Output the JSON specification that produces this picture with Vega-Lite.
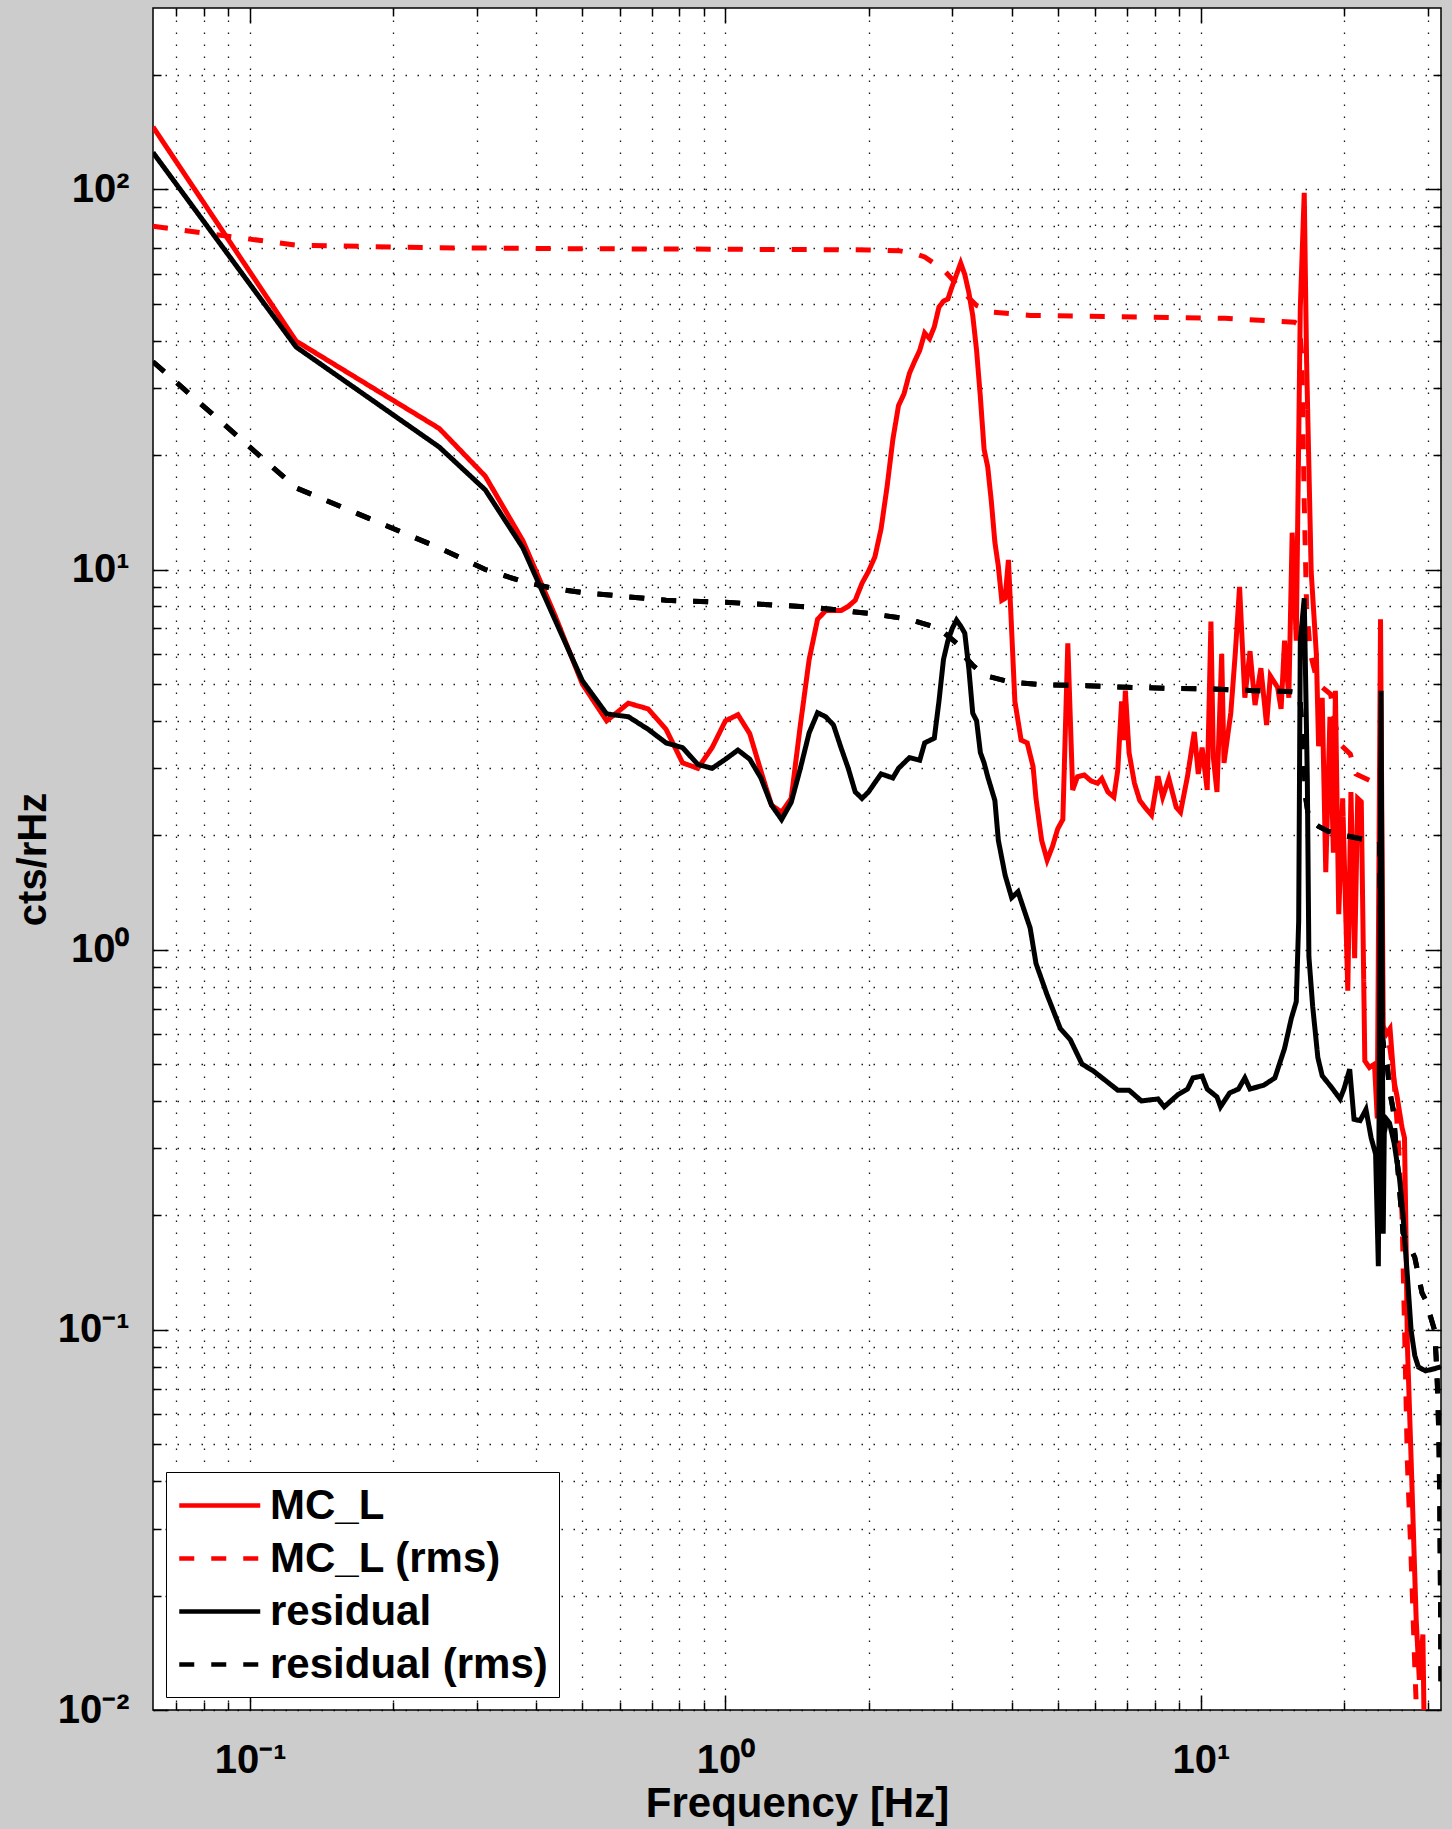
{
"$schema": "https://vega.github.io/schema/vega-lite/v6.json",
"width": 1288, "height": 1702,
"autosize": {"type": "none"},
"padding": {"left": 153, "top": 8, "right": 11, "bottom": 119},
"background": "#cccccc",
"config": {"view": {"fill": "#ffffff", "stroke": "#000000", "strokeWidth": 1.5}, "font": "Liberation Sans"},
"data": {"values": [
{"s":"MC_L","f":0.0625,"v":146},{"s":"MC_L","f":0.125,"v":39.9},{"s":"MC_L","f":0.25,"v":23.5},{"s":"MC_L","f":0.3125,"v":17.6},{"s":"MC_L","f":0.375,"v":11.9},{"s":"MC_L","f":0.4375,"v":7.6},{"s":"MC_L","f":0.5,"v":5.0},{"s":"MC_L","f":0.5625,"v":4.0},{"s":"MC_L","f":0.625,"v":4.45},{"s":"MC_L","f":0.6875,"v":4.3},{"s":"MC_L","f":0.75,"v":3.8},{"s":"MC_L","f":0.8125,"v":3.1},{"s":"MC_L","f":0.875,"v":3.0},{"s":"MC_L","f":0.9375,"v":3.4},{"s":"MC_L","f":1.0,"v":4.0},{"s":"MC_L","f":1.0625,"v":4.15},{"s":"MC_L","f":1.125,"v":3.7},{"s":"MC_L","f":1.1875,"v":2.95},{"s":"MC_L","f":1.25,"v":2.4},{"s":"MC_L","f":1.3125,"v":2.3},{"s":"MC_L","f":1.375,"v":2.5},{"s":"MC_L","f":1.4375,"v":3.9},{"s":"MC_L","f":1.5,"v":5.8},{"s":"MC_L","f":1.5625,"v":7.4},{"s":"MC_L","f":1.625,"v":7.8},{"s":"MC_L","f":1.6875,"v":7.8},{"s":"MC_L","f":1.75,"v":7.8},{"s":"MC_L","f":1.8125,"v":8.0},{"s":"MC_L","f":1.875,"v":8.3},{"s":"MC_L","f":1.9375,"v":9.2},{"s":"MC_L","f":2.0,"v":9.9},{"s":"MC_L","f":2.0625,"v":10.8},{"s":"MC_L","f":2.125,"v":12.8},{"s":"MC_L","f":2.1875,"v":16.5},{"s":"MC_L","f":2.25,"v":22},{"s":"MC_L","f":2.3125,"v":27},{"s":"MC_L","f":2.375,"v":29},{"s":"MC_L","f":2.4375,"v":32.8},{"s":"MC_L","f":2.5,"v":35.3},{"s":"MC_L","f":2.5625,"v":37.7},{"s":"MC_L","f":2.625,"v":41.9},{"s":"MC_L","f":2.6875,"v":40.5},{"s":"MC_L","f":2.75,"v":43.5},{"s":"MC_L","f":2.8125,"v":49},{"s":"MC_L","f":2.875,"v":50.8},{"s":"MC_L","f":2.9375,"v":51.5},{"s":"MC_L","f":3.0,"v":55.7},{"s":"MC_L","f":3.0625,"v":59.7},{"s":"MC_L","f":3.125,"v":64},{"s":"MC_L","f":3.1875,"v":59.7},{"s":"MC_L","f":3.25,"v":53.6},{"s":"MC_L","f":3.3125,"v":46.6},{"s":"MC_L","f":3.375,"v":37.7},{"s":"MC_L","f":3.4375,"v":28.4},{"s":"MC_L","f":3.5,"v":20.7},{"s":"MC_L","f":3.5625,"v":18.6},{"s":"MC_L","f":3.625,"v":15.1},{"s":"MC_L","f":3.6875,"v":11.8},{"s":"MC_L","f":3.75,"v":10.2},{"s":"MC_L","f":3.8125,"v":8.3},{"s":"MC_L","f":3.875,"v":8.4},{"s":"MC_L","f":3.9375,"v":10.6},{"s":"MC_L","f":4.0,"v":6.9},{"s":"MC_L","f":4.0625,"v":4.5},{"s":"MC_L","f":4.1875,"v":3.56},{"s":"MC_L","f":4.3125,"v":3.5},{"s":"MC_L","f":4.4375,"v":3.03},{"s":"MC_L","f":4.5,"v":2.5},{"s":"MC_L","f":4.625,"v":1.94},{"s":"MC_L","f":4.75,"v":1.72},{"s":"MC_L","f":4.875,"v":1.87},{"s":"MC_L","f":5.0,"v":2.08},{"s":"MC_L","f":5.125,"v":2.2},{"s":"MC_L","f":5.25,"v":6.4},{"s":"MC_L","f":5.375,"v":2.63},{"s":"MC_L","f":5.5,"v":2.85},{"s":"MC_L","f":5.6875,"v":2.88},{"s":"MC_L","f":5.875,"v":2.78},{"s":"MC_L","f":6.0625,"v":2.74},{"s":"MC_L","f":6.1875,"v":2.82},{"s":"MC_L","f":6.375,"v":2.6},{"s":"MC_L","f":6.5625,"v":2.52},{"s":"MC_L","f":6.6875,"v":2.97},{"s":"MC_L","f":6.8125,"v":4.5},{"s":"MC_L","f":6.875,"v":3.56},{"s":"MC_L","f":6.9375,"v":4.8},{"s":"MC_L","f":7.0625,"v":3.3},{"s":"MC_L","f":7.25,"v":2.74},{"s":"MC_L","f":7.4375,"v":2.47},{"s":"MC_L","f":7.625,"v":2.37},{"s":"MC_L","f":7.875,"v":2.26},{"s":"MC_L","f":8.125,"v":2.86},{"s":"MC_L","f":8.3125,"v":2.52},{"s":"MC_L","f":8.5625,"v":2.82},{"s":"MC_L","f":8.875,"v":2.37},{"s":"MC_L","f":9.0625,"v":2.3},{"s":"MC_L","f":9.375,"v":2.86},{"s":"MC_L","f":9.6875,"v":3.74},{"s":"MC_L","f":9.875,"v":2.9},{"s":"MC_L","f":10.0625,"v":3.4},{"s":"MC_L","f":10.3125,"v":2.63},{"s":"MC_L","f":10.5,"v":7.3},{"s":"MC_L","f":10.625,"v":3.2},{"s":"MC_L","f":10.8125,"v":2.6},{"s":"MC_L","f":11.0625,"v":6.0},{"s":"MC_L","f":11.1875,"v":3.1},{"s":"MC_L","f":11.5625,"v":4.2},{"s":"MC_L","f":11.8125,"v":6.0},{"s":"MC_L","f":12.0625,"v":9.0},{"s":"MC_L","f":12.375,"v":4.6},{"s":"MC_L","f":12.6875,"v":6.1},{"s":"MC_L","f":13.0,"v":4.4},{"s":"MC_L","f":13.375,"v":5.5},{"s":"MC_L","f":13.75,"v":3.9},{"s":"MC_L","f":14.0,"v":5.25},{"s":"MC_L","f":14.5,"v":4.9},{"s":"MC_L","f":14.75,"v":4.3},{"s":"MC_L","f":15.0,"v":6.5},{"s":"MC_L","f":15.3125,"v":4.6},{"s":"MC_L","f":15.5625,"v":12.5},{"s":"MC_L","f":15.875,"v":6.5},{"s":"MC_L","f":16.1875,"v":48.7},{"s":"MC_L","f":16.5,"v":98},{"s":"MC_L","f":16.6875,"v":35.5},{"s":"MC_L","f":17.0625,"v":9.9},{"s":"MC_L","f":17.5,"v":5.96},{"s":"MC_L","f":17.6875,"v":3.43},{"s":"MC_L","f":18.0,"v":4.6},{"s":"MC_L","f":18.3125,"v":1.6},{"s":"MC_L","f":18.6875,"v":4.1},{"s":"MC_L","f":19.0,"v":1.8},{"s":"MC_L","f":19.1875,"v":4.8},{"s":"MC_L","f":19.5,"v":1.24},{"s":"MC_L","f":19.875,"v":2.5},{"s":"MC_L","f":20.375,"v":0.78},{"s":"MC_L","f":20.6875,"v":2.6},{"s":"MC_L","f":21.0625,"v":0.95},{"s":"MC_L","f":21.375,"v":2.5},{"s":"MC_L","f":21.75,"v":2.45},{"s":"MC_L","f":22.125,"v":0.51},{"s":"MC_L","f":22.625,"v":0.49},{"s":"MC_L","f":23.1875,"v":0.5},{"s":"MC_L","f":23.5,"v":0.36},{"s":"MC_L","f":23.875,"v":7.4},{"s":"MC_L","f":24.1875,"v":0.63},{"s":"MC_L","f":24.5625,"v":0.6},{"s":"MC_L","f":25.0,"v":0.62},{"s":"MC_L","f":25.5,"v":0.45},{"s":"MC_L","f":25.875,"v":0.41},{"s":"MC_L","f":26.5,"v":0.34},{"s":"MC_L","f":26.8125,"v":0.32},{"s":"MC_L","f":27.0,"v":0.183},{"s":"MC_L","f":27.1875,"v":0.092},{"s":"MC_L","f":27.6875,"v":0.0457},{"s":"MC_L","f":28.375,"v":0.0173},{"s":"MC_L","f":28.8125,"v":0.012},{"s":"MC_L","f":29.3125,"v":0.0158},{"s":"MC_L","f":29.625,"v":0.006},
{"s":"MC_L (rms)","f":0.0625,"v":80},{"s":"MC_L (rms)","f":0.125,"v":71.3},{"s":"MC_L (rms)","f":0.25,"v":70.2},{"s":"MC_L (rms)","f":0.5,"v":69.8},{"s":"MC_L (rms)","f":1.0,"v":69.6},{"s":"MC_L (rms)","f":2.0,"v":69.3},{"s":"MC_L (rms)","f":2.3125,"v":69},{"s":"MC_L (rms)","f":2.5,"v":67.8},{"s":"MC_L (rms)","f":2.625,"v":66.4},{"s":"MC_L (rms)","f":2.875,"v":61.5},{"s":"MC_L (rms)","f":3.0,"v":58},{"s":"MC_L (rms)","f":3.125,"v":54.5},{"s":"MC_L (rms)","f":3.25,"v":51.9},{"s":"MC_L (rms)","f":3.375,"v":49.5},{"s":"MC_L (rms)","f":3.625,"v":47.6},{"s":"MC_L (rms)","f":4.375,"v":46.6},{"s":"MC_L (rms)","f":6.375,"v":46.3},{"s":"MC_L (rms)","f":11.25,"v":45.8},{"s":"MC_L (rms)","f":15.75,"v":44.7},{"s":"MC_L (rms)","f":16.125,"v":44},{"s":"MC_L (rms)","f":16.3125,"v":36},{"s":"MC_L (rms)","f":16.5,"v":15},{"s":"MC_L (rms)","f":16.6875,"v":8},{"s":"MC_L (rms)","f":17.0,"v":6.0},{"s":"MC_L (rms)","f":17.5,"v":5.2},{"s":"MC_L (rms)","f":18.0,"v":4.9},{"s":"MC_L (rms)","f":18.75,"v":4.7},{"s":"MC_L (rms)","f":19.1875,"v":3.9},{"s":"MC_L (rms)","f":19.625,"v":3.47},{"s":"MC_L (rms)","f":20.625,"v":3.27},{"s":"MC_L (rms)","f":21.1875,"v":2.9},{"s":"MC_L (rms)","f":23.625,"v":2.72},{"s":"MC_L (rms)","f":23.875,"v":2.7},{"s":"MC_L (rms)","f":24.0625,"v":0.64},{"s":"MC_L (rms)","f":25.0,"v":0.55},{"s":"MC_L (rms)","f":25.5,"v":0.45},{"s":"MC_L (rms)","f":26.0,"v":0.32},{"s":"MC_L (rms)","f":26.5,"v":0.2},{"s":"MC_L (rms)","f":26.875,"v":0.09},{"s":"MC_L (rms)","f":27.1875,"v":0.045},{"s":"MC_L (rms)","f":27.6875,"v":0.025},{"s":"MC_L (rms)","f":28.1875,"v":0.013},{"s":"MC_L (rms)","f":28.5,"v":0.009},
{"s":"residual","f":0.0625,"v":125},{"s":"residual","f":0.125,"v":38.5},{"s":"residual","f":0.25,"v":21},{"s":"residual","f":0.3125,"v":16.2},{"s":"residual","f":0.375,"v":11.4},{"s":"residual","f":0.4375,"v":7.4},{"s":"residual","f":0.5,"v":5.1},{"s":"residual","f":0.5625,"v":4.17},{"s":"residual","f":0.625,"v":4.1},{"s":"residual","f":0.6875,"v":3.8},{"s":"residual","f":0.75,"v":3.5},{"s":"residual","f":0.8125,"v":3.4},{"s":"residual","f":0.875,"v":3.07},{"s":"residual","f":0.9375,"v":3.0},{"s":"residual","f":1.0,"v":3.17},{"s":"residual","f":1.0625,"v":3.35},{"s":"residual","f":1.125,"v":3.17},{"s":"residual","f":1.1875,"v":2.83},{"s":"residual","f":1.25,"v":2.4},{"s":"residual","f":1.3125,"v":2.2},{"s":"residual","f":1.375,"v":2.44},{"s":"residual","f":1.4375,"v":3.0},{"s":"residual","f":1.5,"v":3.72},{"s":"residual","f":1.5625,"v":4.2},{"s":"residual","f":1.625,"v":4.1},{"s":"residual","f":1.6875,"v":3.9},{"s":"residual","f":1.75,"v":3.4},{"s":"residual","f":1.8125,"v":3.0},{"s":"residual","f":1.875,"v":2.6},{"s":"residual","f":1.9375,"v":2.5},{"s":"residual","f":2.0,"v":2.6},{"s":"residual","f":2.0625,"v":2.75},{"s":"residual","f":2.125,"v":2.9},{"s":"residual","f":2.25,"v":2.83},{"s":"residual","f":2.3125,"v":3.0},{"s":"residual","f":2.4375,"v":3.2},{"s":"residual","f":2.5625,"v":3.15},{"s":"residual","f":2.625,"v":3.5},{"s":"residual","f":2.75,"v":3.6},{"s":"residual","f":2.8125,"v":4.5},{"s":"residual","f":2.875,"v":5.8},{"s":"residual","f":2.9375,"v":6.5},{"s":"residual","f":3.0,"v":7.0},{"s":"residual","f":3.0625,"v":7.36},{"s":"residual","f":3.125,"v":7.1},{"s":"residual","f":3.1875,"v":6.8},{"s":"residual","f":3.25,"v":5.5},{"s":"residual","f":3.3125,"v":4.19},{"s":"residual","f":3.375,"v":4.0},{"s":"residual","f":3.4375,"v":3.3},{"s":"residual","f":3.5,"v":3.1},{"s":"residual","f":3.5625,"v":2.85},{"s":"residual","f":3.6875,"v":2.47},{"s":"residual","f":3.75,"v":1.94},{"s":"residual","f":3.875,"v":1.57},{"s":"residual","f":4.0,"v":1.37},{"s":"residual","f":4.125,"v":1.42},{"s":"residual","f":4.25,"v":1.27},{"s":"residual","f":4.375,"v":1.14},{"s":"residual","f":4.5,"v":0.92},{"s":"residual","f":4.75,"v":0.76},{"s":"residual","f":4.875,"v":0.7},{"s":"residual","f":5.0625,"v":0.62},{"s":"residual","f":5.3125,"v":0.58},{"s":"residual","f":5.625,"v":0.5},{"s":"residual","f":5.9375,"v":0.48},{"s":"residual","f":6.6875,"v":0.427},{"s":"residual","f":7.0625,"v":0.427},{"s":"residual","f":7.5,"v":0.4},{"s":"residual","f":8.125,"v":0.405},{"s":"residual","f":8.375,"v":0.386},{"s":"residual","f":8.9375,"v":0.415},{"s":"residual","f":9.375,"v":0.43},{"s":"residual","f":9.625,"v":0.46},{"s":"residual","f":10.0625,"v":0.465},{"s":"residual","f":10.3125,"v":0.43},{"s":"residual","f":10.8125,"v":0.41},{"s":"residual","f":11.0,"v":0.386},{"s":"residual","f":11.5,"v":0.42},{"s":"residual","f":12.0,"v":0.43},{"s":"residual","f":12.375,"v":0.46},{"s":"residual","f":12.6875,"v":0.43},{"s":"residual","f":13.5625,"v":0.44},{"s":"residual","f":14.3125,"v":0.46},{"s":"residual","f":15.0,"v":0.55},{"s":"residual","f":15.5,"v":0.66},{"s":"residual","f":15.875,"v":0.73},{"s":"residual","f":16.0625,"v":1.19},{"s":"residual","f":16.1875,"v":6.5},{"s":"residual","f":16.5,"v":8.4},{"s":"residual","f":16.75,"v":2.78},{"s":"residual","f":16.875,"v":0.96},{"s":"residual","f":17.1875,"v":0.71},{"s":"residual","f":17.625,"v":0.52},{"s":"residual","f":18.0,"v":0.466},{"s":"residual","f":18.8125,"v":0.435},{"s":"residual","f":19.625,"v":0.405},{"s":"residual","f":20.0,"v":0.43},{"s":"residual","f":20.5625,"v":0.485},{"s":"residual","f":21.0,"v":0.358},{"s":"residual","f":21.625,"v":0.355},{"s":"residual","f":22.25,"v":0.38},{"s":"residual","f":22.8125,"v":0.32},{"s":"residual","f":23.3125,"v":0.29},{"s":"residual","f":23.625,"v":0.147},{"s":"residual","f":23.9375,"v":4.8},{"s":"residual","f":24.1875,"v":0.179},{"s":"residual","f":24.3125,"v":0.33},{"s":"residual","f":24.625,"v":0.357},{"s":"residual","f":24.9375,"v":0.35},{"s":"residual","f":25.5,"v":0.31},{"s":"residual","f":26.1875,"v":0.249},{"s":"residual","f":26.625,"v":0.2},{"s":"residual","f":27.1875,"v":0.139},{"s":"residual","f":27.6875,"v":0.0996},{"s":"residual","f":28.1875,"v":0.0855},{"s":"residual","f":28.6875,"v":0.0798},{"s":"residual","f":29.6875,"v":0.078},{"s":"residual","f":31.0,"v":0.079},{"s":"residual","f":32.0,"v":0.08},
{"s":"residual (rms)","f":0.0625,"v":35.2},{"s":"residual (rms)","f":0.125,"v":16.4},{"s":"residual (rms)","f":0.25,"v":11.4},{"s":"residual (rms)","f":0.3125,"v":10.0},{"s":"residual (rms)","f":0.375,"v":9.3},{"s":"residual (rms)","f":0.4375,"v":8.9},{"s":"residual (rms)","f":0.5,"v":8.7},{"s":"residual (rms)","f":0.75,"v":8.3},{"s":"residual (rms)","f":1.0,"v":8.2},{"s":"residual (rms)","f":1.5,"v":7.97},{"s":"residual (rms)","f":2.0,"v":7.67},{"s":"residual (rms)","f":2.4375,"v":7.4},{"s":"residual (rms)","f":2.8125,"v":7.0},{"s":"residual (rms)","f":3.0625,"v":6.4},{"s":"residual (rms)","f":3.1875,"v":5.9},{"s":"residual (rms)","f":3.3125,"v":5.6},{"s":"residual (rms)","f":3.5,"v":5.27},{"s":"residual (rms)","f":4.0,"v":5.05},{"s":"residual (rms)","f":4.75,"v":4.97},{"s":"residual (rms)","f":5.75,"v":4.95},{"s":"residual (rms)","f":7.0,"v":4.9},{"s":"residual (rms)","f":8.5,"v":4.87},{"s":"residual (rms)","f":10.5,"v":4.85},{"s":"residual (rms)","f":13.0,"v":4.8},{"s":"residual (rms)","f":15.25,"v":4.78},{"s":"residual (rms)","f":16.125,"v":4.75},{"s":"residual (rms)","f":16.375,"v":3.6},{"s":"residual (rms)","f":16.625,"v":2.5},{"s":"residual (rms)","f":16.875,"v":2.2},{"s":"residual (rms)","f":17.6875,"v":2.11},{"s":"residual (rms)","f":18.5,"v":2.05},{"s":"residual (rms)","f":20.0,"v":2.0},{"s":"residual (rms)","f":22.0,"v":1.95},{"s":"residual (rms)","f":23.75,"v":1.92},{"s":"residual (rms)","f":24.0625,"v":0.6},{"s":"residual (rms)","f":24.3125,"v":0.54},{"s":"residual (rms)","f":24.6875,"v":0.49},{"s":"residual (rms)","f":25.0,"v":0.42},{"s":"residual (rms)","f":25.375,"v":0.38},{"s":"residual (rms)","f":26.0,"v":0.26},{"s":"residual (rms)","f":26.625,"v":0.18},{"s":"residual (rms)","f":27.1875,"v":0.17},{"s":"residual (rms)","f":28.1875,"v":0.155},{"s":"residual (rms)","f":29.1875,"v":0.125},{"s":"residual (rms)","f":29.6875,"v":0.12},{"s":"residual (rms)","f":31.0,"v":0.1},{"s":"residual (rms)","f":31.25,"v":0.085},{"s":"residual (rms)","f":31.5,"v":0.068},{"s":"residual (rms)","f":31.6875,"v":0.05},{"s":"residual (rms)","f":31.8125,"v":0.035},{"s":"residual (rms)","f":31.9375,"v":0.018},{"s":"residual (rms)","f":32.0,"v":0.011}
]},
"layer": [
{
"mark": {"type": "line", "strokeWidth": 5, "clip": true},
"encoding": {
"x": {"field": "f", "type": "quantitative", "scale": {"type": "log", "domain": [0.0625, 32], "nice": false},
 "axis": {"orient": "bottom", "values": [0.07,0.08,0.09,0.1,0.2,0.3,0.4,0.5,0.6,0.7,0.8,0.9,1,2,3,4,5,6,7,8,9,10,20,30],
  "labelExpr": "datum.value == 0.1 ? '10⁻¹' : datum.value == 1 ? '10⁰' : datum.value == 10 ? '10¹' : ''",
  "labelFont": "Liberation Sans", "labelFontSize": 40, "labelFontWeight": "bold", "labelColor": "#000000", "labelPadding": 45, "labelOverlap": false, "labelFlush": false, "labelBound": false,
  "tickSize": {"condition": {"test": "datum.value == 0.1 || datum.value == 1 || datum.value == 10", "value": -15}, "value": -8},
  "tickColor": "#000000", "tickWidth": 1.5,
  "grid": true, "gridColor": "#000000", "gridDash": [1.5, 10.5], "gridWidth": 1.3, "gridOpacity": 0.9,
  "domain": false,
  "title": "Frequency [Hz]", "titleFont": "Liberation Sans", "titleFontSize": 42, "titleFontWeight": "bold", "titleColor": "#000000", "titlePadding": -4}},
"y": {"field": "v", "type": "quantitative", "scale": {"type": "log", "domain": [0.01, 300], "nice": false},
 "axis": {"orient": "left", "values": [0.01,0.02,0.03,0.04,0.05,0.06,0.07,0.08,0.09,0.1,0.2,0.3,0.4,0.5,0.6,0.7,0.8,0.9,1,2,3,4,5,6,7,8,9,10,20,30,40,50,60,70,80,90,100,200],
  "labelExpr": "datum.value == 0.01 ? '10⁻²' : datum.value == 0.1 ? '10⁻¹' : datum.value == 1 ? '10⁰' : datum.value == 10 ? '10¹' : datum.value == 100 ? '10²' : ''",
  "labelFont": "Liberation Sans", "labelFontSize": 40, "labelFontWeight": "bold", "labelColor": "#000000", "labelPadding": 39, "labelOverlap": false, "labelFlush": false, "labelBound": false,
  "tickSize": {"condition": {"test": "datum.value == 0.01 || datum.value == 0.1 || datum.value == 1 || datum.value == 10 || datum.value == 100", "value": -15}, "value": -8},
  "tickColor": "#000000", "tickWidth": 1.5,
  "grid": true, "gridColor": "#000000", "gridDash": [1.5, 10.5], "gridWidth": 1.3, "gridOpacity": 0.9,
  "domain": false,
  "title": "cts/rHz", "titleFont": "Liberation Sans", "titleFontSize": 40, "titleFontWeight": "bold", "titleColor": "#000000", "titlePadding": 4}},
"color": {"field": "s", "type": "nominal", "sort": null,
 "scale": {"domain": ["MC_L", "MC_L (rms)", "residual", "residual (rms)"], "range": ["#ff0000", "#ff0000", "#000000", "#000000"]},
 "legend": {"title": null, "orient": "bottom-left", "offset": 13, "fillColor": "#ffffff", "strokeColor": "#000000", "padding": 11, "cornerRadius": 0,
  "labelFont": "Liberation Sans", "labelFontSize": 42, "labelFontWeight": "bold", "labelColor": "#000000", "labelLimit": 600, "labelOffset": 48,
  "symbolType": "M-1,0H3", "symbolSize": 1640, "symbolStrokeWidth": 4.5, "rowPadding": 9}},
"strokeDash": {"field": "s", "type": "nominal", "sort": null,
 "scale": {"domain": ["MC_L", "MC_L (rms)", "residual", "residual (rms)"], "range": [[1, 0], [15, 17], [1, 0], [15, 17]]},
 "legend": {"title": null, "orient": "bottom-left", "offset": 13, "fillColor": "#ffffff", "strokeColor": "#000000", "padding": 11, "cornerRadius": 0,
  "labelFont": "Liberation Sans", "labelFontSize": 42, "labelFontWeight": "bold", "labelColor": "#000000", "labelLimit": 600, "labelOffset": 48,
  "symbolType": "M-1,0H3", "symbolSize": 1640, "symbolStrokeWidth": 4.5, "rowPadding": 9}}
}
},
{
"transform": [{"filter": "datum.s == 'residual (rms)'"}],
"mark": {"type": "line", "strokeWidth": 5, "clip": true, "color": "#000000", "strokeDash": [15, 17]},
"encoding": {
"x": {"field": "f", "type": "quantitative", "scale": {"type": "log", "domain": [0.0625, 32], "nice": false},
 "axis": {"orient": "top", "values": [0.07,0.08,0.09,0.1,0.2,0.3,0.4,0.5,0.6,0.7,0.8,0.9,1,2,3,4,5,6,7,8,9,10,20,30], "labels": false, "grid": false, "domain": false, "title": null,
  "tickSize": {"condition": {"test": "datum.value == 0.1 || datum.value == 1 || datum.value == 10", "value": -15}, "value": -8},
  "tickColor": "#000000", "tickWidth": 1.5}},
"y": {"field": "v", "type": "quantitative", "scale": {"type": "log", "domain": [0.01, 300], "nice": false},
 "axis": {"orient": "right", "values": [0.01,0.02,0.03,0.04,0.05,0.06,0.07,0.08,0.09,0.1,0.2,0.3,0.4,0.5,0.6,0.7,0.8,0.9,1,2,3,4,5,6,7,8,9,10,20,30,40,50,60,70,80,90,100,200], "labels": false, "grid": false, "domain": false, "title": null,
  "tickSize": {"condition": {"test": "datum.value == 0.01 || datum.value == 0.1 || datum.value == 1 || datum.value == 10 || datum.value == 100", "value": -15}, "value": -8},
  "tickColor": "#000000", "tickWidth": 1.5}}
}
}
],
"resolve": {"axis": {"x": "independent", "y": "independent"}}
}
